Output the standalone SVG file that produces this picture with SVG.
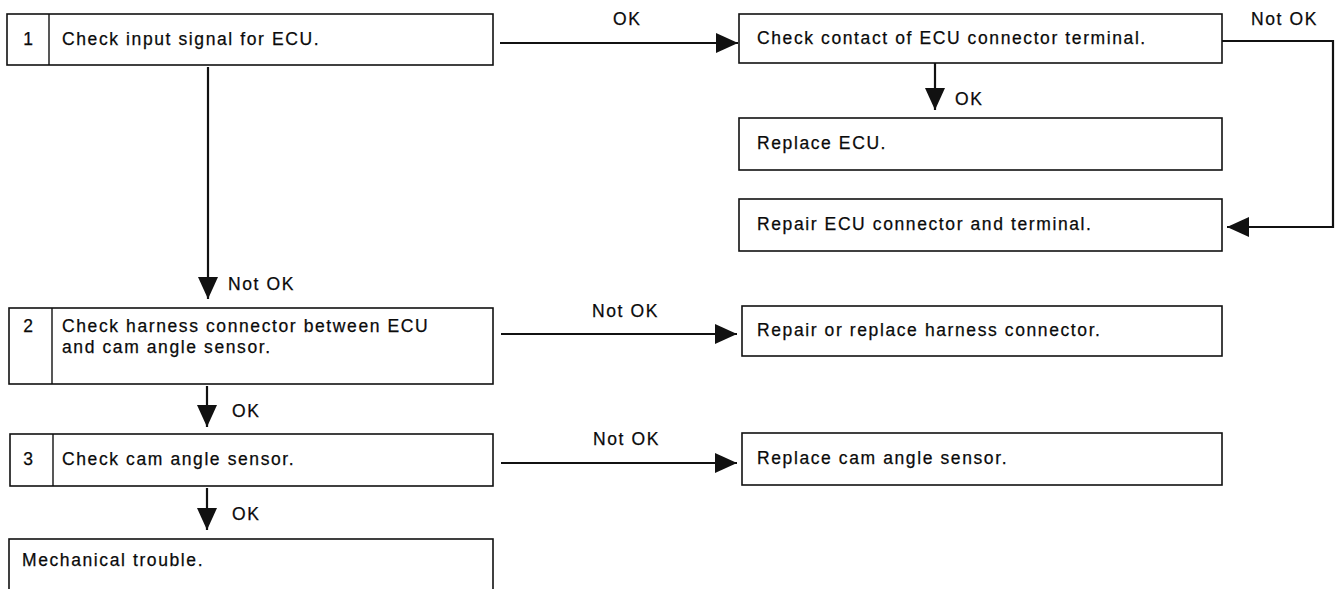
<svg xmlns="http://www.w3.org/2000/svg" width="1344" height="589" viewBox="0 0 1344 589">
  <style>
    .box { fill: #ffffff; stroke: #111111; stroke-width: 1.6; }
    .div { stroke: #111111; stroke-width: 1.4; }
    .txt { font-family: "Liberation Sans", Arial, sans-serif; font-size: 17.5px; fill: #0a0a0a; stroke: #0a0a0a; stroke-width: 0.25; letter-spacing: 1.6px; }
    .num { text-anchor: middle; letter-spacing: 0; }
    .wire { fill: none; stroke: #111111; stroke-width: 2.2; }
  </style>
  <defs>
    <marker id="head" viewBox="0 0 22 20" refX="22" refY="10" markerWidth="22" markerHeight="20" markerUnits="userSpaceOnUse" orient="auto">
      <path d="M0,0 L22,10 L0,20 Z" fill="#111111"/>
    </marker>
  </defs>
  <rect width="1344" height="589" fill="#ffffff"/>

  <!-- step 1 -->
  <g id="step1">
    <rect class="box" x="7" y="14" width="486" height="51"/>
    <line class="div" x1="49" y1="14" x2="49" y2="65"/>
    <text class="txt num" x="28" y="45">1</text>
    <text class="txt" x="62" y="45">Check input signal for ECU.</text>
  </g>

  <g id="check-contact">
    <rect class="box" x="739" y="14" width="483" height="49"/>
    <text class="txt" x="757" y="44">Check contact of ECU connector terminal.</text>
  </g>

  <g id="replace-ecu">
    <rect class="box" x="739" y="118" width="483" height="52"/>
    <text class="txt" x="757" y="149">Replace ECU.</text>
  </g>

  <g id="repair-ecu">
    <rect class="box" x="739" y="199" width="483" height="52"/>
    <text class="txt" x="757" y="230">Repair ECU connector and terminal.</text>
  </g>

  <!-- step 2 -->
  <g id="step2">
    <rect class="box" x="9" y="308" width="484" height="76"/>
    <line class="div" x1="52" y1="308" x2="52" y2="384"/>
    <text class="txt num" x="28" y="332">2</text>
    <text class="txt" x="62" y="332">Check harness connector between ECU</text>
    <text class="txt" x="62" y="353">and cam angle sensor.</text>
  </g>

  <g id="repair-harness">
    <rect class="box" x="742" y="306" width="480" height="50"/>
    <text class="txt" x="757" y="336">Repair or replace harness connector.</text>
  </g>

  <!-- step 3 -->
  <g id="step3">
    <rect class="box" x="10" y="434" width="483" height="52"/>
    <line class="div" x1="53" y1="434" x2="53" y2="486"/>
    <text class="txt num" x="28" y="465">3</text>
    <text class="txt" x="62" y="465">Check cam angle sensor.</text>
  </g>

  <g id="replace-cam">
    <rect class="box" x="742" y="433" width="480" height="52"/>
    <text class="txt" x="757" y="464">Replace cam angle sensor.</text>
  </g>

  <g id="mechanical">
    <rect class="box" x="9" y="539" width="484" height="70"/>
    <text class="txt" x="22" y="566">Mechanical trouble.</text>
  </g>

  <!-- connectors -->
  <g id="connectors">
    <line class="wire" x1="500" y1="43" x2="738" y2="43" marker-end="url(#head)"/>
    <text class="txt" x="613" y="25">OK</text>

    <polyline class="wire" points="1222,41 1333,41 1333,227 1227,227" marker-end="url(#head)"/>
    <text class="txt" x="1251" y="25">Not OK</text>

    <line class="wire" x1="935" y1="63" x2="935" y2="110" marker-end="url(#head)"/>
    <text class="txt" x="955" y="105">OK</text>

    <line class="wire" x1="208" y1="67" x2="208" y2="299" marker-end="url(#head)"/>
    <text class="txt" x="228" y="290">Not OK</text>

    <line class="wire" x1="207" y1="386" x2="207" y2="427" marker-end="url(#head)"/>
    <text class="txt" x="232" y="417">OK</text>

    <line class="wire" x1="207" y1="488" x2="207" y2="530" marker-end="url(#head)"/>
    <text class="txt" x="232" y="520">OK</text>

    <line class="wire" x1="501" y1="334" x2="737" y2="334" marker-end="url(#head)"/>
    <text class="txt" x="592" y="317">Not OK</text>

    <line class="wire" x1="501" y1="463" x2="737" y2="463" marker-end="url(#head)"/>
    <text class="txt" x="593" y="445">Not OK</text>
  </g>
</svg>
